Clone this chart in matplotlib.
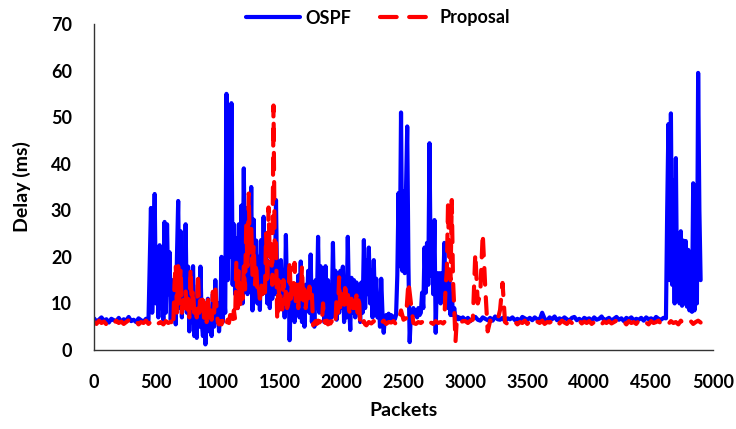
import numpy as np
import matplotlib.pyplot as plt

plt.rcParams['font.family'] = ['Lato', 'DejaVu Sans']
plt.rcParams['font.weight'] = 'bold'

# OSPF delay (ms); quiet stretches sampled every 20 packets, bursts every 10
ospf_quiet_a = [  # packets 0 .. 440
    6.8, 6.1, 6.5, 7.0, 6.3, 6.6, 5.9, 6.7, 6.4, 6.2,
    6.9, 6.0, 6.6, 6.3, 7.1, 6.2, 6.5, 6.0, 6.8, 6.4,
    6.1, 6.7, 6.3,
]
ospf_burst_a = [  # packets 460 .. 2950
    30.5, 8, 17, 33.5, 10, 20, 7, 22.5, 9, 18,
    6.5, 27.5, 8, 27, 12, 21, 6.5, 15, 9, 13,
    5.5, 20, 32, 9, 25.5, 7, 21, 10, 27, 8,
    17.9, 4, 12, 6, 18, 3, 9, 2.6, 14, 5,
    17.9, 6, 3, 9, 1.2, 7, 11, 4, 8, 3,
    12, 5, 15, 6, 10, 4, 8, 20, 6, 12,
    8, 55, 15, 38, 20, 53, 14, 27, 12, 24,
    9, 27, 13, 31, 10, 39, 15, 30.5, 12, 26,
    14, 35, 8.5, 28, 12, 23.5, 10, 20, 8.6, 23.6,
    12, 28.6, 14.5, 22, 10, 19, 9, 16.5, 11, 18,
    12, 32.2, 13, 16.7, 9, 19.3, 11, 17, 7, 24.7,
    10, 18, 2.1, 12, 9, 14, 6, 11, 8, 16,
    7, 19, 6, 12, 5, 14, 9, 17, 8, 20.5,
    6, 14, 5, 15, 9, 24.3, 8, 18, 11, 15,
    6, 18, 7, 15, 6, 12, 7, 23, 9, 17,
    6.5, 14, 8, 17, 9, 17.9, 6, 12, 7, 24.3,
    10, 4.3, 15.5, 8, 15, 7, 14.5, 9, 12, 6,
    14.5, 8, 23.6, 9, 19.3, 12, 22, 10, 17, 7,
    19.3, 9, 15.3, 7, 12, 5, 15.3, 8, 3.7, 7,
    7.5, 6.5, 7.8, 6.8, 7.5, 6.4, 7.2, 6.6, 7.5, 16,
    33.7, 18, 51, 17, 34, 16.5, 34, 48, 18, 1.7,
    8, 7, 9, 7.5, 8.5, 7, 9, 7.5, 8, 12.3,
    9, 22, 12.3, 23, 14, 44.4, 16, 27, 12, 27.9,
    3.7, 16.5, 12, 16.5, 10, 16.5, 12, 23, 10, 15,
    9, 17, 7.5, 12, 7.5, 9, 6.5, 7.2, 6.6, 7.0,
]
ospf_quiet_b = [  # packets 2960 .. 4620
    6.6, 7.0,
    6.4, 6.9, 6.2, 6.8, 7.1, 6.5, 6.3, 7.0, 6.7, 6.4,
    6.9, 6.3, 7.2, 6.6, 6.5, 6.9, 6.2, 6.8, 6.6, 7.0,
    6.4, 6.7, 6.3, 7.1, 6.8, 6.5, 6.9, 6.4, 7.0, 6.6,
    6.5, 8.0, 6.7, 6.3, 7.0, 6.6, 7.2, 6.4, 6.8, 6.5,
    7.0, 6.6, 6.3, 6.9, 7.1, 6.4, 6.7, 6.2, 6.9, 6.6,
    6.8, 6.3, 7.0, 6.5, 6.7, 7.2, 6.4, 6.6, 6.9, 6.3,
    6.7, 7.1, 6.5, 6.8, 6.2, 6.9, 6.6, 7.0, 6.4, 6.7,
    6.5, 6.9, 6.3, 7.0, 6.6, 6.8, 6.4, 7.1, 6.7, 6.5,
    6.9, 6.8,
]
ospf_burst_b = [  # packets 4630 .. 4900
    30, 48.5, 15, 50.8, 14, 36.5, 10, 41.2, 12, 17.8,
    10, 25.5, 9.5, 23.5, 10, 23.4, 9.3, 21.5, 8.5, 18,
    8.2, 35.8, 8.5, 19.6, 10, 59.5, 30, 15,
]

# Proposal delay (ms)
prop_quiet_a = [  # packets 0 .. 620
    6.0, 5.6, 6.3, 5.8, 6.1, 5.5, 6.2, 5.9, 5.7, 6.3,
    5.8, 6.1, 5.6, 6.0, 6.4, 5.7, 5.9, 6.2, 5.5, 6.0,
    5.8, 6.3, 5.6, 6.1, 5.9, 6.4, 5.7, 6.0, 5.5, 6.2,
    5.8, 6.1,
]
prop_burst_a = [  # packets 630 .. 2190
    5.8, 5, 14, 18.5, 8, 18, 10, 17.5, 8, 12,
    9, 13, 7.5, 11, 7, 17.5, 9, 13, 8, 10,
    7, 16.5, 8, 12, 9, 12, 6, 10, 6, 11.5,
    7, 9, 6.5, 12.5, 8, 13.6, 9, 6, 5.5, 6.2,
    5.5, 6.3, 5.6, 6.2, 5.5, 6.5, 5.8, 7.5, 5.5, 6,
    8.5, 6.5, 19.3, 9, 17, 9, 15, 11, 18, 13,
    27, 18, 33.6, 20, 27, 16, 22.5, 14, 18.7, 12.5,
    13.6, 11, 14.5, 12, 13, 11, 25, 14, 30.6, 20,
    23.6, 14, 52.5, 20, 23, 6.3, 15, 8.7, 12.5, 8.7,
    15, 10, 12.5, 9, 10, 19.3, 11, 15, 12, 18.7,
    10, 14, 9, 14.4, 11, 18, 10, 13, 9, 12,
    10, 13.6, 11, 12, 5.3, 5.8, 6.2, 5.6, 6.3, 5.9,
    6.2, 5.6, 10, 6.3, 5.8, 6.3, 5.5, 6.1, 5.7, 6.2,
    5.5, 6.1, 5.8, 11.5, 8, 15.6, 8.5, 12, 10, 8.5,
    14.5, 10, 12.5, 8.5, 7.8, 11, 9, 11, 9, 11.7,
    8, 11.7, 5.3, 6.0, 5.7, 6.2, 5.5,
]
prop_quiet_b = [  # packets 2200 .. 2820
    5.3, 6.0, 5.7, 6.2, 5.5, 6.1, 5.8, 6.3, 5.6, 6.0,
    5.9, 6.2, 5.5, 6.1, 8.5, 6.5, 6.8, 14.6, 10, 5.8,
    5.6, 6.0, 5.8, 6.2, 5.5, 6.1, 5.9, 5.6, 6.2, 5.8,
    6.0, 5.7,
]
prop_burst_b = [  # packets 2830 .. 2950
    6.0, 13.7, 17, 31.8, 16.5, 15, 32.2, 15, 9, 1.8,
    6.3, 5.7, 6.1,
]
prop_quiet_c = [  # packets 2960 .. 4900
    5.9, 6.2,
    6.2, 5.8, 6.3, 6.5, 20.7, 10, 12, 25, 13.6, 4,
    6.3, 5.8, 6.1, 6.4, 8.6, 14.4, 6.0, 5.6, 6.2, 5.8,
    6.1, 5.5, 6.0, 5.8, 6.3, 5.6, 6.2, 5.9, 5.5, 6.1,
    5.8, 6.3, 5.6, 6.0, 5.9, 6.2, 5.5, 6.1, 5.7, 6.3,
    5.9, 5.6, 6.2, 5.8, 6.0, 5.5, 6.3, 5.7, 6.1, 5.8,
    6.2, 5.6, 6.0, 5.9, 6.3, 5.5, 6.1, 5.8, 6.2, 5.7,
    6.0, 6.3, 5.6, 5.9, 6.1, 5.5, 6.2, 5.8, 6.0, 5.6,
    6.3, 5.7, 6.1, 5.9, 5.5, 6.2, 5.8, 6.0, 6.3, 5.6,
    5.9, 6.1, 5.6, 6.2, 5.8, 6.0, 5.5, 6.3, 5.7, 6.1,
    5.8, 6.2, 5.6, 6.0, 6.3, 5.9,
]

x_ticks = list(range(0, 5001, 500))
y_ticks = list(range(0, 71, 10))


def join(parts):
    # each part: (first packet, spacing, values)
    xs, ys = [], []
    for start, step, vals in parts:
        xs.append(start + step * np.arange(len(vals)))
        ys.append(np.asarray(vals, dtype=float))
    return np.concatenate(xs), np.concatenate(ys)


ospf_x, ospf_y = join([(0, 20, ospf_quiet_a), (460, 10, ospf_burst_a),
                       (2960, 20, ospf_quiet_b), (4630, 10, ospf_burst_b)])
prop_x, prop_y = join([(0, 20, prop_quiet_a), (630, 10, prop_burst_a),
                       (2200, 20, prop_quiet_b), (2830, 10, prop_burst_b),
                       (2960, 20, prop_quiet_c)])

fig = plt.figure(figsize=(7.36, 4.29), dpi=100)
ax = fig.add_axes([94 / 736, 1 - 350 / 429, 619 / 736, 326 / 429])

ax.plot(ospf_x, ospf_y, color='#0000ff', lw=3.0,
        solid_joinstyle='round', solid_capstyle='round', label='OSPF')
ax.plot(prop_x, prop_y, color='#ff0000', lw=3.0,
        dashes=(4, 3), dash_capstyle='round', dash_joinstyle='round',
        label='Proposal')

ax.set_xlim(0, 5000)
ax.set_ylim(0, 70)
ax.set_xticks(x_ticks)
ax.set_yticks(y_ticks)
ax.tick_params(length=0, labelsize=13, pad=16)
ax.tick_params(axis='x', pad=17)
for s in ['top', 'right']:
    ax.spines[s].set_visible(False)
for s in ['left', 'bottom']:
    ax.spines[s].set_color('#333333')
    ax.spines[s].set_linewidth(1.0)

ax.set_xlabel('Packets', fontsize=14, fontweight='bold', labelpad=8)
ax.set_ylabel('Delay (ms)', fontsize=14, fontweight='bold', labelpad=14)

fig.legend(loc='center', bbox_to_anchor=(378 / 736, 1 - 18 / 429), ncol=2,
           frameon=False, handlelength=3.0, columnspacing=1.6,
           handletextpad=0.3, prop={'size': 13, 'weight': 'bold'})

fig.savefig('out.png', dpi=100)
